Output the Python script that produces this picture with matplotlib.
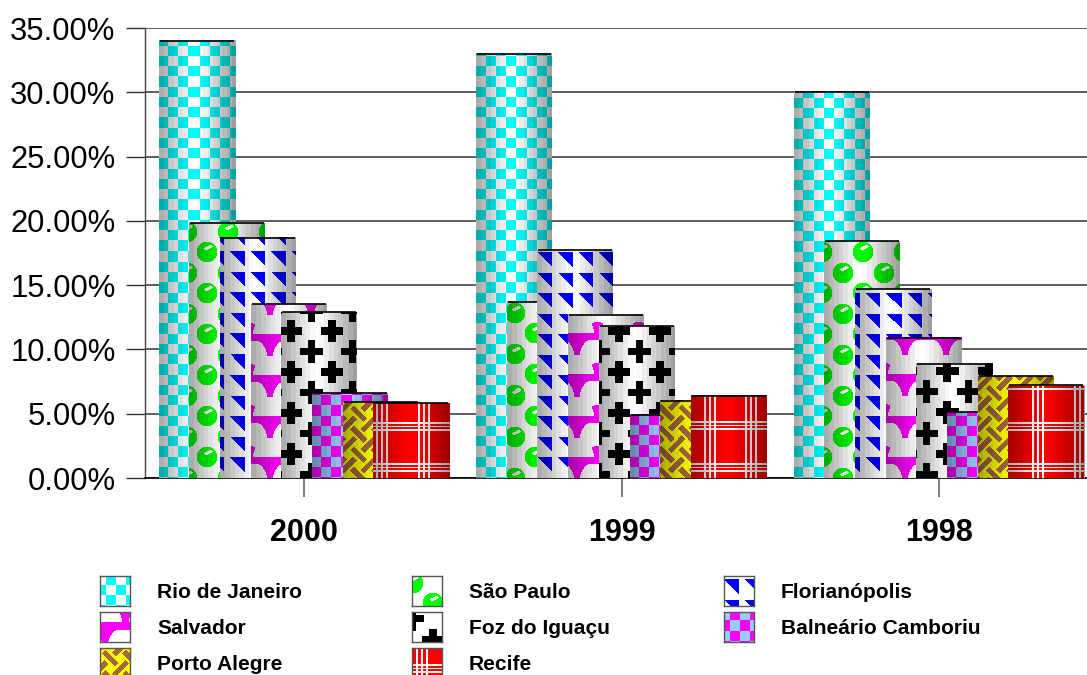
import numpy as np
import matplotlib
matplotlib.use("Agg")
import matplotlib.pyplot as plt
from matplotlib.ticker import FuncFormatter

years = ["2000", "1999", "1998"]
cities = ["Rio de Janeiro", "São Paulo", "Florianópolis", "Salvador",
          "Foz do Iguaçu", "Balneário Camboriu", "Porto Alegre", "Recife"]
rio = [34.0, 33.0, 30.0]
sao_paulo = [19.8, 13.7, 18.4]
florianopolis = [18.7, 17.7, 14.7]
salvador = [13.5, 12.7, 10.9]
foz = [12.9, 11.8, 8.9]
balneario = [6.6, 4.9, 5.1]
porto_alegre = [5.9, 6.0, 7.9]
recife = [5.8, 6.4, 7.2]
series = [rio, sao_paulo, florianopolis, salvador, foz, balneario, porto_alegre, recife]
yticks = [0, 5, 10, 15, 20, 25, 30, 35]

W, H = 1087, 675
X0, X1 = 145, 1087    # axes edges, pixels
YB, YT = 478, 28
BAR_PX = 76
STEP_PX = 30.7
GROUP_PX = 317.5
T = 41                # every fill pattern repeats over 41 pixels


def rgb(hexstr):
    return np.array([int(hexstr[i:i + 2], 16) for i in (1, 3, 5)]) / 255.0


def grid():
    return np.meshgrid(np.arange(T) + 0.5, np.arange(T) + 0.5)


def wrap(a):
    return (a + T / 2) % T - T / 2


def paint(mask, fg, bg="#ffffff"):
    out = np.ones(mask.shape + (3,)) * rgb(bg)
    out[mask] = rgb(fg)
    return out


def checker(fg, bg):
    u, v = grid()
    return paint((np.floor((u - 6) / 10.25) + np.floor((v - 9) / 10.25)) % 2 == 1, fg, bg)


def balls():
    u, v = grid()
    centres = [(1, 7), (21, 27)]
    mask = np.zeros(u.shape, bool)
    for cu, cv in centres:
        mask |= np.hypot(wrap(u - cu), wrap(v - cv)) < 10.3
    out = paint(mask, "#00ff00")
    # small tilted highlight on each ball
    for cu, cv in centres:
        du = wrap(u - cu) - 1.5
        dv = wrap(v - cv) + 4.5
        a = du * np.cos(-0.35) + dv * np.sin(-0.35)
        b = -du * np.sin(-0.35) + dv * np.cos(-0.35)
        out[(a / 4.5) ** 2 + (b / 1.7) ** 2 < 1] = 1.0
    return out


def triangles():
    u, v = grid()
    um = u % 20.5
    vm = (v - 3.5) % 20.5
    return paint((um < 15) & (vm < 15) & (um > vm), "#0000ff")


def domes():
    u, v = grid()
    uc = np.abs(wrap(u - 5))
    vv = (v - 11) % T
    big = np.hypot(uc - 20.5, vv - 22) < 17.5
    dome = np.hypot(uc, vv - 41) < 17
    corner = np.hypot(uc - 20.5, vv - 41) < 11
    return paint((vv < 7) | ((vv < 22) & ~big) | ((vv >= 22) & ~dome & corner), "#ff00ff")


def crosses():
    u, v = grid()
    mask = np.zeros(u.shape, bool)
    for cu, cv in [(0.5, 7.5), (21, 28)]:
        du = np.abs(wrap(u - cu))
        dv = np.abs(wrap(v - cv))
        mask |= ((du < 11.5) & (dv < 3.75)) | ((du < 3.75) & (dv < 11.5))
    return paint(mask, "#000000")


def weave():
    u, v = grid()
    mask = np.zeros(u.shape, bool)
    for m in range(4):
        for n in range(4):
            if (m + n) % 2:
                continue
            sgn = 1 if m % 2 == 0 else -1
            du = wrap(u - 10.25 * m)
            dv = wrap(v - 10.25 * n)
            a = (du + sgn * dv) / np.sqrt(2)
            b = (du - sgn * dv) / np.sqrt(2)
            mask |= (np.abs(b) < 9.5) & (np.abs(a) < 2.8)
    return paint(mask, "#a5683c", "#ffff00")


def plaid():
    u, v = grid()
    vert = (np.abs(u - 5) < 1.5) | (np.abs(u - 10) < 1) | (np.abs(u - 15) < 1.5)
    horiz = (np.abs(v - 17) < 1.5) | (np.abs(v - 20.5) < 0.8) | (np.abs(v - 24) < 1.5)
    return paint(vert | horiz, "#ffffff", "#ff0000")


tiles = [checker("#00ffff", "#ffffff"), balls(), triangles(), domes(), crosses(),
         checker("#ff00ff", "#99ccff"), weave(), plaid()]
# pattern phase per series: column shift from the page edge, row shift from the baseline
phase_x = [2, 19, 16, 2, 17, 13, 0, 38]
phase_y = [19, 6, 23, 31, 10, 19, 12, 30]


def bar_image(tile, h, left_px, dx, dy, w=BAR_PX):
    # repeat the tile over the bar, then apply banded cylinder shading
    rows = (dy - np.arange(h - 1, -1, -1)) % T
    cols = (left_px + dx + np.arange(w)) % T
    img = tile[rows][:, cols].copy()
    t = (np.floor(np.arange(w) / w * 16) + 0.5) / 16
    shade = np.clip(1.03 - 0.8 * np.abs(t - 0.47), 0.62, 1.0)
    return img * shade[None, :, None]


fig = plt.figure(figsize=(W / 100, H / 100), dpi=100)
ax = fig.add_axes([X0 / W, 1 - YB / H, (X1 - X0) / W, (YB - YT) / H])
ax.set_ylim(0, 35)
# one category spans GROUP_PX pixels, first group centred at pixel 304
xmin, xmax = (X0 - 304) / GROUP_PX, (X1 - 304) / GROUP_PX
for s in ["top", "right"]:
    ax.spines[s].set_visible(False)
ax.spines["left"].set_color("#444444")
ax.spines["left"].set_linewidth(1.0)
ax.spines["bottom"].set_color("#000000")
ax.spines["bottom"].set_linewidth(1.2)
ax.set_yticks(yticks)
ax.yaxis.set_major_formatter(FuncFormatter(lambda y, _: f"{y:.2f}%"))
ax.tick_params(axis="y", length=13.7, width=1.0, color="#333333", labelsize=22.3, pad=7.5)
ax.grid(axis="y", color="#333333", lw=1.1, zorder=0)
ax.set_axisbelow(True)
ax.set_xticks(range(len(years)))
ax.set_xticklabels(years, fontweight="bold", fontsize=22)
ax.tick_params(axis="x", length=14, width=1.2, color="#666666", pad=15)
for lab in ax.get_xticklabels() + ax.get_yticklabels():
    lab.set_family("Liberation Sans")

bar_w = BAR_PX / GROUP_PX
step = STEP_PX / GROUP_PX
for i, (vals, tile) in enumerate(zip(series, tiles)):
    for g, val in enumerate(vals):
        left = g + (i - 3.5) * step - bar_w / 2
        h = int(round(val * (YB - YT) / 35))
        left_px = int(round(304 + left * GROUP_PX))
        dx = phase_x[i]
        if i == 3 and g == 0:
            dx += 20    # the 2000 Salvador bar has its scallops half a period over
        z = 3 + i * 0.1
        ax.imshow(bar_image(tile, h, left_px, dx, phase_y[i]), extent=(left, left + bar_w, 0, val),
                  aspect="auto", origin="upper", interpolation="nearest", zorder=z)
        ax.plot([left + 0.003, left + bar_w - 0.003], [val, val], color="#000000", lw=1.2,
                solid_capstyle="butt", zorder=z + 0.01, clip_on=False)
ax.set_xlim(xmin, xmax)
ax.set_ylim(0, 35)

# legend: swatch plus label, three columns filled row by row
col_x = [100, 412, 724]
row_y = [576, 612, 648]
for i, (name, tile) in enumerate(zip(cities, tiles)):
    r, c = divmod(i, 3)
    x, y = col_x[c], row_y[r]
    sw = fig.add_axes([x / W, 1 - (y + 30) / H, 30 / W, 30 / H])
    sw.imshow(tile[:30, :30], aspect="auto", interpolation="nearest")
    sw.set_xticks([])
    sw.set_yticks([])
    for sp in sw.spines.values():
        sp.set_color("#555555")
        sp.set_linewidth(1.0)
    fig.text((x + 57) / W, 1 - (y + 16.5) / H, name, fontsize=15.1, fontweight="bold",
             family="Liberation Sans", va="center", ha="left")

fig.savefig("out.png", dpi=100)
